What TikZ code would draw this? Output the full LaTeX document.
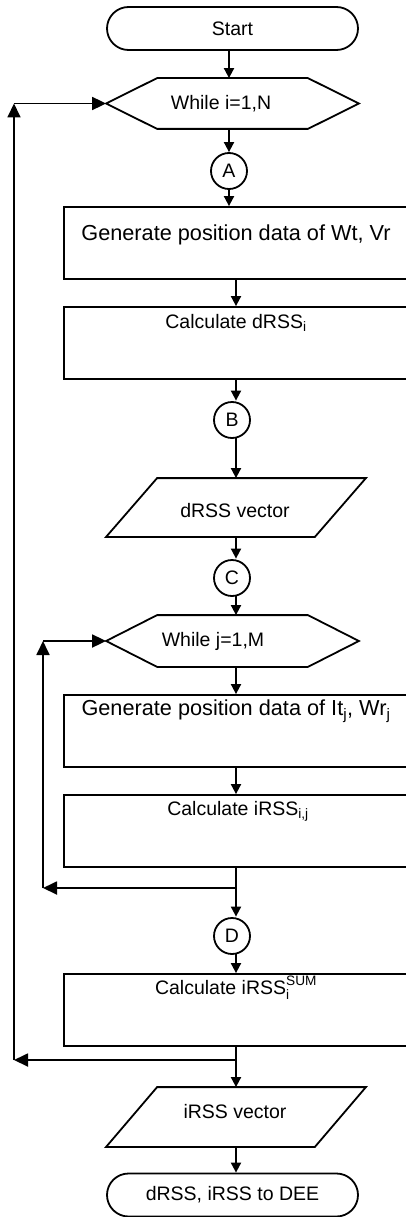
\documentclass[tikz,border=0pt]{standalone}
\usepackage{amsmath}
\usepackage{fontspec}
\setmainfont{Liberation Sans}
\usetikzlibrary{arrows.meta,calc,shapes.misc}

\begin{document}
\begin{tikzpicture}[x=1pt,y=-1pt,
  line width=1.8pt,
  every node/.style={font=\fontsize{19.5}{22}\selectfont},
  arr/.style={-{Triangle[length=10pt,width=10pt]}},
  larr/.style={-{Triangle[length=14pt,width=13pt]}},
  terminal/.style={draw, rounded rectangle, minimum width=251pt, minimum height=43pt, inner sep=0pt},
  shell/.style={inner sep=0pt, minimum width=#1},
  procbox/.style={draw, inner sep=0pt, minimum width=344pt, minimum height=72pt},
  connector/.style={draw, circle, minimum size=36pt, inner sep=0pt},
  txt/.style={inner sep=0pt},
  bigtxt/.style={inner sep=0pt, font=\fontsize{21.7}{24}\selectfont}
]
\useasboundingbox (0,0) rectangle (406,1217);
\clip (0,0) rectangle (406,1217);

% terminals
\node[terminal] (start) at (232.5,28.5) {Start};
\node[terminal] (stop) at (232.5,1195) {dRSS, iRSS to DEE};

% loop headers (hexagons)
\node[shell=251pt, minimum height=49pt] (whi) at (232.5,103.5) {};
\draw (whi.west) -- ([xshift=51pt]whi.north west) -- ([xshift=-51pt]whi.north east)
  -- (whi.east) -- ([xshift=-51pt]whi.south east) -- ([xshift=51pt]whi.south west) -- cycle;
\node[txt] at (221,103.5) {While i=1,N};

\node[shell=251pt, minimum height=50pt] (whj) at (232.5,641) {};
\draw (whj.west) -- ([xshift=51pt]whj.north west) -- ([xshift=-51pt]whj.north east)
  -- (whj.east) -- ([xshift=-51pt]whj.south east) -- ([xshift=51pt]whj.south west) -- cycle;
\node[txt] at (213,641) {While j=1,M};

% on-page connectors
\node[connector] (A) at (229,171) {A};
\node[connector] (B) at (232,420) {B};
\node[connector] (C) at (232,578) {C};
\node[connector] (D) at (232,936) {D};

% process boxes
\node[procbox] (g1) at (236,243) {};
\node[bigtxt] at (236,235) {Generate position data of Wt, Vr};
\node[procbox] (c1) at (236,343) {};
\node[txt] at (236,323) {Calculate dRSS\textsubscript{i}};
\node[procbox] (g2) at (236,731) {};
\node[bigtxt] at (236,711) {Generate position data of It\textsubscript{j}, Wr\textsubscript{j}};
\node[procbox] (c2) at (236,831) {};
\node[txt] at (238,811) {Calculate iRSS\textsubscript{i,j}};
\node[procbox] (c3) at (236,1010) {};
\node[txt] at (236,988) {$\text{Calculate iRSS}_{\text{i}}^{\text{SUM}}$};

% data (parallelograms)
\node[shell=258pt, minimum height=57pt] (dv) at (236,507.5) {};
\draw (dv.south west) -- ([xshift=51pt]dv.north west) -- (dv.north east)
  -- ([xshift=-51pt]dv.south east) -- cycle;
\node[txt] at (235,511) {dRSS vector};
\node[shell=258pt, minimum height=58pt] (iv) at (236,1117) {};
\draw (iv.south west) -- ([xshift=51pt]iv.north west) -- (iv.north east)
  -- ([xshift=-51pt]iv.south east) -- cycle;
\node[txt] at (235,1112) {iRSS vector};

% junctions and loop corners
\coordinate (jj) at (236,888);
\coordinate (ji) at (236,1060);
\coordinate (lj) at (43,888);
\coordinate (li) at (14,1060);

% main flow
\draw[arr] (start.south -| A) -- (whi.north -| A);
\draw[arr] (whi.south -| A) -- (A.north);
\draw[arr] (A.south) -- (g1.north -| A);
\draw[arr] (g1) -- (c1);
\draw[arr] (c1.south) -- ([yshift=0.5pt]B.north -| c1);
\draw[arr] ([yshift=0.5pt]B.south -| c1) -- (dv.north -| c1);
\draw[arr] (dv.south -| c1) -- ([yshift=0.5pt]C.north -| c1);
\draw[arr] ([yshift=0.5pt]C.south -| c1) -- (whj.north -| c1);
\draw[arr] (whj.south -| c1) -- (g2.north);
\draw[arr] (g2) -- (c2);
\draw (c2.south) -- (jj);
\draw[arr] (jj) -- ([yshift=0.5pt]D.north -| jj);
\draw[arr] ([yshift=0.5pt]D.south -| jj) -- (c3.north);
\draw (c3.south) -- (ji);
\draw[arr] (ji) -- (iv.north -| ji);
\draw[arr] (iv.south -| ji) -- (stop.north -| ji);

% inner loop back to While j
\draw[larr] (jj) -- (lj);
\draw[larr] (lj) -- (lj |- whj.west);
\draw[larr] (lj |- whj.west) -- (whj.west);

% outer loop back to While i
\draw[larr] (ji) -- (li);
\draw[larr] (li) -- (li |- whi.west);
\draw[larr] (li |- whi.west) -- (whi.west);
\end{tikzpicture}
\end{document}
